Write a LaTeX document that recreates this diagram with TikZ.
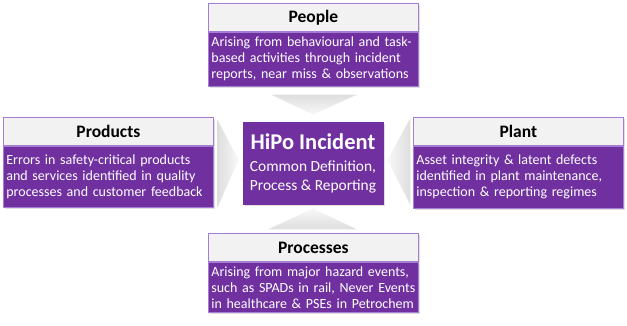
\documentclass[tikz,border=0pt]{standalone}
\usepackage{fontspec}
\setmainfont{Carlito}
\usetikzlibrary{positioning,calc,shadows}

\begin{document}
\begin{tikzpicture}[x=1pt,y=-1pt]
  \definecolor{hipopurple}{RGB}{112,48,160}
  \definecolor{edgepurple}{RGB}{165,125,210}
  \definecolor{headgray}{RGB}{242,242,242}
  \definecolor{chevlight}{RGB}{248,248,248}
  \definecolor{chevdark}{RGB}{222,222,222}

  \tikzset{
    boxshadow/.style={drop shadow={shadow xshift=1.5pt,shadow yshift=-1.5pt,opacity=0.25}},
    boxhead/.style={rectangle,draw=edgepurple,fill=headgray,line width=0.8pt,boxshadow,
      minimum width=210pt,minimum height=28pt,inner sep=0pt,anchor=north west,
      font=\fontsize{17.5}{20}\selectfont\bfseries},
    boxbody/.style={rectangle,draw=edgepurple,fill=hipopurple,line width=0.8pt,boxshadow,
      minimum width=210pt,minimum height=#1,text width=204pt,inner xsep=3pt,inner ysep=0pt,
      align=left,text=white,font=\fontsize{14}{16}\selectfont},
    hubbox/.style={rectangle,draw=hipopurple,fill=hipopurple,line width=0.8pt,boxshadow,
      minimum width=140pt,minimum height=82pt,inner sep=0pt,align=center,text=white,
      font=\fontsize{15.4}{19}\selectfont},
    chevron/.style={draw=none}
  }

  \useasboundingbox (0,0) rectangle (627,325);

  % ---------------- centre ----------------
  \node[hubbox] (hub) at (313,163)
    {{\fontsize{22.5}{26}\selectfont\bfseries HiPo Incident}\\[3pt]
     Common Definition,\\Process \& Reporting};

  % ---------------- People (top) ----------------
  \node[boxhead] (peopleHead) at (208,3) {People};
  \node[boxbody=54pt,below=0pt of peopleHead] (peopleBody)
    {Arising from behavioural and task-\\based activities through incident\\reports, near miss \& observations};

  % ---------------- Products (left) ----------------
  \node[boxhead] (productsHead) at (3,117) {Products};
  \node[boxbody=61pt,below=0pt of productsHead] (productsBody)
    {Errors in safety-critical products\\and services identified in quality\\processes and customer feedback};

  % ---------------- Plant (right) ----------------
  \node[boxhead] (plantHead) at (413,117) {Plant};
  \node[boxbody=62pt,below=0pt of plantHead] (plantBody)
    {Asset integrity \& latent defects\\identified in plant maintenance,\\inspection \& reporting regimes};

  % ---------------- Processes (bottom) ----------------
  \node[boxhead] (processesHead) at (208,233) {Processes};
  \node[boxbody=50pt,below=0pt of processesHead] (processesBody)
    {Arising from major hazard events,\\such as SPADs in rail, Never Events\\in healthcare \& PSEs in Petrochem};

  % Chevrons pointing into the hub
  \shade[chevron,top color=chevdark,bottom color=chevlight]
    ($(hub.north)+(-42,-27)$) -- ($(hub.north)+(44,-27)$) -- ($(hub.north)+(0,-7)$) -- cycle;
  \shade[chevron,top color=chevlight,bottom color=chevdark]
    ($(hub.south)+(-45,25)$) -- ($(hub.south)+(44,25)$) -- ($(hub.south)+(0,4)$) -- cycle;
  \shade[chevron,left color=chevdark,right color=chevlight]
    ($(hub.west)+(-25,-43)$) -- ($(hub.west)+(-25,44)$) -- ($(hub.west)+(-4,-3)$) -- cycle;
  \shade[chevron,left color=chevlight,right color=chevdark]
    ($(hub.east)+(27,-45)$) -- ($(hub.east)+(27,42)$) -- ($(hub.east)+(4,-3)$) -- cycle;
\end{tikzpicture}
\end{document}
